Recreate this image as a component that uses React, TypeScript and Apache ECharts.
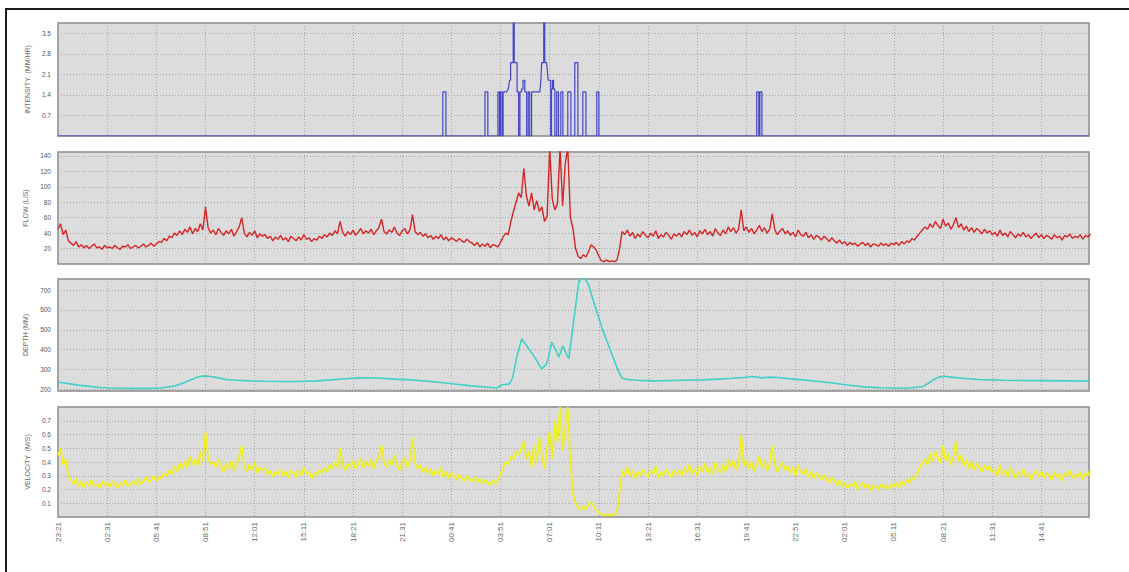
import React, { useEffect, useRef } from 'react';
import * as echarts from 'echarts';

// ---- time axis (minutes from 23:21 on day 1) ----
const xTickLabels = ['23:21', '02:31', '05:41', '08:51', '12:01', '15:11', '18:21', '21:31', '00:41', '03:51', '07:01',
  '10:11', '13:21', '16:31', '19:41', '22:51', '02:01', '05:11', '08:21', '11:31', '14:41'];
const TICK_STEP = 190;
const X_MAX = 3984;
const SAMPLE_STEP = 10;

// ---- y tick labels ----
const intensityTicks = ['0.7', '1.4', '2.1', '2.8', '3.5'];
const flowTicks = ['20', '40', '60', '80', '100', '120', '140'];
const depthTicks = ['200', '300', '400', '500', '600', '700'];
const velocityTicks = ['0.1', '0.2', '0.3', '0.4', '0.5', '0.6', '0.7'];

// ---- intensity (mm/hr), step outline: times (min) and values ----
const intensityT = [0,
  1487, 1487, 1499, 1499,
  1650, 1650, 1661, 1661,
  1700, 1700, 1706, 1706, 1710, 1710, 1716, 1716, 1720, 1720, 1733, 1740, 1745, 1749, 1749, 1759, 1759, 1763, 1763, 1774, 1774, 1780, 1780,
  1785, 1785, 1791, 1791, 1797, 1797, 1804, 1804, 1811, 1811, 1817, 1817, 1823, 1823, 1830, 1830, 1862, 1866, 1869, 1877, 1877, 1881, 1881,
  1888, 1894, 1904, 1904, 1907, 1907, 1911, 1911, 1915, 1915, 1920, 1920, 1927, 1927, 1934, 1934, 1943, 1943, 1951, 1951,
  1970, 1970, 1982, 1982, 1997, 1997, 2009, 2009, 2028, 2028, 2040, 2040, 2082, 2082, 2090, 2090,
  2700, 2700, 2708, 2708, 2712, 2712, 2720, 2720, 3984];
const intensityV = [0,
  0, 1.5, 1.5, 0,
  0, 1.5, 1.5, 0,
  0, 1.5, 1.5, 0, 0, 1.5, 1.5, 0, 0, 1.5, 1.5, 1.6, 1.9, 1.9, 2.5, 2.5, 4.5, 4.5, 2.5, 2.5, 1.5, 1.5, 0,
  0, 1.5, 1.5, 1.6, 1.6, 1.9, 1.9, 1.5, 1.5, 0, 0, 1.5, 1.5, 0, 0, 1.5, 1.5, 1.9, 2.5, 2.5, 4.5, 4.5, 2.5,
  2.5, 1.9, 1.9, 0, 0, 1.6, 1.6, 1.9, 1.9, 1.6, 1.6, 0, 0, 1.5, 1.5, 0, 0, 1.5, 1.5, 0,
  0, 1.5, 1.5, 0, 0, 2.5, 2.5, 0, 0, 1.5, 1.5, 0, 0, 1.5, 1.5, 0,
  0, 1.5, 1.5, 0, 0, 1.5, 1.5, 0, 0];

// ---- flow (L/s), one value every 10 minutes ----
const flowV = [
  45, 52, 38, 44, 30, 27, 24, 29, 22, 25, 21, 24, 20, 23, 26, 21, 22, 19, 24, 21,
  22, 20, 24, 21, 19, 23, 22, 25, 20, 22, 24, 21, 23, 26, 22, 24, 27, 23, 26, 29,
  28, 33, 30, 36, 34, 40, 37, 43, 38, 45, 41, 48, 39, 46, 42, 52, 44, 74, 47, 40,
  44, 38, 46, 41, 37, 43, 39, 45, 36, 42, 48, 60, 40, 35, 41, 37, 43, 34, 39, 36,
  38, 33, 36, 30, 35, 32, 37, 31, 34, 29, 36, 33, 30, 35, 31, 38, 32, 34, 29, 33,
  31, 36, 33, 38, 35, 40, 37, 43, 39, 55, 41, 36, 42, 38, 44, 37, 41, 46, 39, 43,
  40, 45, 38, 43, 47, 58, 42, 39, 44, 41, 48, 40, 37, 43, 46, 39, 44, 64, 42, 38,
  41, 36, 39, 34, 37, 32, 36, 33, 38, 31, 35, 30, 34, 32, 29, 33, 30, 28, 32, 29,
  27, 24, 28, 22, 26, 23, 27, 21, 25, 24, 22, 28, 35, 40, 38, 55, 68, 80, 92, 86,
  124, 88, 75, 92, 70, 82, 68, 74, 55, 62, 150, 84, 70, 78, 150, 75, 130, 150, 60, 46,
  20, 10, 7, 12, 9, 16, 25, 22, 18, 10, 4, 3, 5, 3, 4, 3, 5, 20, 42, 38,
  44, 36, 41, 33, 39, 35, 42, 37, 34, 40, 36, 43, 33, 38, 35, 41, 37, 32, 39, 36,
  40, 35, 42, 38, 44, 37, 41, 35, 43, 39, 45, 38, 42, 36, 46, 40, 37, 44, 39, 48,
  42, 47, 40, 45, 70, 43, 48, 41, 46, 39, 44, 50, 42, 47, 40, 45, 65, 44, 38, 43,
  46, 39, 43, 37, 41, 35, 44, 38, 36, 41, 34, 38, 32, 37, 35, 31, 36, 33, 29, 34,
  30, 27, 31, 26, 29, 24, 28, 25, 27, 23, 26, 28, 24, 27, 22, 26, 25, 23, 27, 24,
  26, 23, 27, 25, 28, 24, 29, 26, 30, 28, 33, 31, 36, 40, 44, 48, 45, 52, 47, 55,
  50, 46, 58, 49, 53, 45, 51, 60, 47, 52, 44, 49, 42, 47, 41, 46, 43, 39, 45, 40,
  43, 38, 41, 36, 44, 37, 40, 35, 42, 38, 34, 39, 36, 41, 35, 38, 33, 37, 40, 34,
  38, 33, 37, 35, 32, 38, 34, 36, 31, 37, 35, 39, 33, 36, 34, 38, 32, 37, 35, 39];

// ---- depth (mm): times (min) and values ----
const depthT = [0, 25, 47, 75, 105, 135, 163, 200, 240, 279, 320, 360, 396, 425, 454, 485, 512, 540, 560, 589, 620, 648, 690, 745,
  800, 860, 938, 1000, 1055, 1110, 1171, 1210, 1249, 1300, 1365, 1420, 1481, 1540, 1598, 1650, 1695, 1714, 1745, 1757, 1772, 1792,
  1811, 1830, 1850, 1869, 1889, 1908, 1923, 1935, 1951, 1962, 1974, 1993, 2013, 2032, 2048, 2075, 2102, 2141, 2160, 2179, 2199,
  2240, 2296, 2350, 2420, 2490, 2550, 2606, 2650, 2684, 2722, 2750, 2781, 2830, 2878, 2940, 2994, 3050, 3110, 3180, 3265, 3300,
  3343, 3365, 3382, 3400, 3420, 3450, 3479, 3520, 3556, 3600, 3653, 3720, 3808, 3900, 3984];
const depthV = [236, 232, 228, 222, 218, 213, 210, 207, 206, 205, 206, 205, 207, 212, 218, 232, 248, 262, 268, 265, 258, 250, 246, 243,
  241, 240, 240, 243, 248, 254, 258, 259, 256, 252, 248, 242, 235, 226, 218, 212, 207, 222, 228, 260, 360, 455,
  420, 385, 345, 302, 330, 437, 400, 362, 420, 385, 355, 550, 745, 765, 735, 620, 510, 375, 310, 258, 250,
  246, 243, 244, 246, 248, 252, 256, 260, 265, 258, 262, 260, 253, 248, 240, 232, 222, 213, 208, 206, 208,
  215, 232, 248, 260, 266, 262, 258, 254, 250, 248, 246, 245, 244, 243, 242];

// ---- velocity (m/s), one value every 10 minutes ----
const velocityV = [
  .45, .50, .38, .42, .30, .27, .24, .28, .22, .26, .21, .25, .23, .27, .22, .24, .21, .26, .23, .25,
  .22, .26, .24, .21, .25, .23, .27, .22, .24, .26, .23, .28, .24, .26, .29, .25, .27, .30, .26, .29,
  .28, .32, .30, .34, .31, .37, .33, .39, .35, .41, .36, .44, .38, .42, .37, .48, .40, .62, .43, .38,
  .40, .36, .42, .37, .33, .39, .35, .41, .34, .38, .44, .52, .36, .33, .38, .34, .40, .32, .36, .34,
  .36, .31, .34, .29, .33, .31, .35, .30, .33, .28, .34, .32, .29, .34, .30, .36, .31, .33, .28, .32,
  .30, .34, .32, .36, .33, .38, .35, .40, .36, .50, .38, .34, .39, .36, .41, .35, .38, .43, .36, .40,
  .37, .42, .35, .40, .44, .52, .39, .36, .41, .38, .45, .37, .34, .40, .43, .36, .41, .58, .39, .35,
  .38, .33, .36, .31, .35, .30, .34, .31, .36, .29, .33, .28, .32, .30, .27, .31, .28, .26, .30, .27,
  .26, .29, .25, .28, .24, .27, .25, .23, .27, .24, .26, .31, .36, .40, .38, .44, .42, .48, .45, .50,
  .55, .42, .48, .36, .52, .40, .58, .45, .35, .50, .62, .42, .70, .55, .80, .48, .66, .80, .40, .18,
  .10, .07, .05, .08, .06, .09, .11, .08, .05, .03, .02, .01, .02, .01, .02, .01, .04, .18, .34, .30,
  .36, .30, .34, .28, .33, .30, .35, .31, .29, .34, .31, .37, .28, .33, .30, .35, .32, .29, .34, .31,
  .34, .30, .36, .32, .38, .31, .35, .30, .37, .33, .39, .32, .36, .31, .40, .34, .32, .38, .33, .42,
  .36, .41, .34, .39, .60, .37, .42, .35, .40, .33, .38, .44, .36, .41, .34, .39, .52, .38, .33, .37,
  .40, .34, .37, .32, .36, .30, .38, .33, .31, .35, .29, .33, .28, .32, .30, .27, .31, .28, .25, .29,
  .26, .23, .27, .22, .25, .21, .24, .22, .26, .20, .23, .25, .21, .24, .19, .23, .22, .20, .24, .21,
  .23, .20, .24, .22, .25, .21, .26, .23, .27, .25, .29, .27, .32, .36, .39, .42, .38, .46, .40, .48,
  .43, .39, .52, .41, .46, .38, .44, .55, .40, .45, .37, .42, .35, .40, .34, .39, .36, .33, .38, .34,
  .37, .32, .35, .30, .38, .31, .34, .29, .36, .32, .28, .33, .30, .35, .29, .32, .27, .31, .34, .29,
  .33, .28, .32, .30, .27, .33, .29, .31, .26, .32, .30, .34, .28, .31, .29, .33, .27, .32, .30, .34];

const FONT = '"Liberation Sans", Arial, sans-serif';
const GRID_COLOR = '#a4a4a4';

function pairsFromSteps(values: number[]) {
  return values.map((v, i) => [i * SAMPLE_STEP, v]);
}
function pairs(ts: number[], vs: number[]) {
  return ts.map((t, i) => [t, vs[i]]);
}
function labelFrom(list: string[], digits: number) {
  return (v: number) => {
    const s = Number(v).toFixed(digits);
    return list.includes(s) ? s : '';
  };
}

export default function App() {
  const ref = useRef<HTMLDivElement>(null);
  useEffect(() => {
    if (!ref.current) return;
    const chart = echarts.init(ref.current, null, { renderer: 'svg' });
    const grids = [
      { left: 58, top: 23, width: 1031, height: 113 },
      { left: 58, top: 152, width: 1031, height: 112 },
      { left: 58, top: 279, width: 1031, height: 112 },
      { left: 58, top: 407, width: 1031, height: 110 },
    ].map((g) => ({
      ...g,
      show: true,
      backgroundColor: '#dcdcdc',
      borderColor: '#8a8a8a',
      borderWidth: 1.5,
      containLabel: false,
      outerBoundsMode: 'none',
    }));
    const xAxes = grids.map((_, i) => ({
      type: 'value',
      gridIndex: i,
      min: 0,
      max: X_MAX,
      interval: TICK_STEP,
      axisLine: { show: false },
      axisTick: { show: false },
      splitLine: { show: true, lineStyle: { color: GRID_COLOR, type: [1, 2], width: 1 } },
      axisLabel: {
        show: i === 3,
        rotate: 90,
        fontSize: 8,
        color: '#6a6a6a',
        fontFamily: FONT,
        margin: 5,
        showMaxLabel: false,
        formatter: (v: number) => {
          const k = Math.round(v / TICK_STEP);
          return Math.abs(v - k * TICK_STEP) < 1 ? (xTickLabels[k] ?? '') : '';
        },
      },
    }));
    const yCommon = {
      type: 'value',
      nameLocation: 'middle',
      nameGap: 24,
      nameRotate: 90,
      nameTextStyle: { fontSize: 7, color: '#6a6a6a', fontFamily: FONT },
      axisLine: { show: false },
      axisTick: { show: false },
      splitLine: { show: true, lineStyle: { color: GRID_COLOR, type: [1, 2], width: 1 } },
    };
    const yLabel = { fontSize: 6.5, color: '#555', fontFamily: FONT, margin: 7 };
    const yAxes = [
      { ...yCommon, gridIndex: 0, name: 'INTENSITY  (MM/HR)', min: 0, max: 3.85, interval: 0.7,
        axisLabel: { ...yLabel, formatter: labelFrom(intensityTicks, 1) } },
      { ...yCommon, gridIndex: 1, name: 'FLOW (L/S)', min: 0, max: 145, interval: 20,
        axisLabel: { ...yLabel, formatter: labelFrom(flowTicks, 0) } },
      { ...yCommon, gridIndex: 2, name: 'DEPTH (MM)', min: 192, max: 756, splitNumber: 5,
        axisLabel: { ...yLabel, formatter: labelFrom(depthTicks, 0) } },
      { ...yCommon, gridIndex: 3, name: 'VELOCITY  (M/S)', min: 0, max: 0.8, interval: 0.1,
        axisLabel: { ...yLabel, formatter: labelFrom(velocityTicks, 1) } },
    ];
    const lineBase = { type: 'line', symbol: 'none', clip: true, silent: true };
    chart.setOption({
      animation: false,
      backgroundColor: '#ffffff',
      grid: grids,
      xAxis: xAxes,
      yAxis: yAxes,
      series: [
        { ...lineBase, name: 'Intensity', xAxisIndex: 0, yAxisIndex: 0, data: pairs(intensityT, intensityV),
          lineStyle: { color: '#4545c8', width: 1.2 } },
        { ...lineBase, name: 'Flow', xAxisIndex: 1, yAxisIndex: 1, data: pairsFromSteps(flowV),
          lineStyle: { color: '#d42626', width: 1.4 } },
        { ...lineBase, name: 'Depth', xAxisIndex: 2, yAxisIndex: 2, data: pairs(depthT, depthV),
          lineStyle: { color: '#3fd0c6', width: 1.6 } },
        { ...lineBase, name: 'Velocity', xAxisIndex: 3, yAxisIndex: 3, data: pairsFromSteps(velocityV),
          lineStyle: { color: '#f0f020', width: 1.8 } },
      ],
      graphic: [
        { type: 'line', shape: { x1: 5, y1: 9, x2: 1129, y2: 9 }, style: { stroke: '#1c1c1c', lineWidth: 2 } },
        { type: 'line', shape: { x1: 6, y1: 8, x2: 6, y2: 572 }, style: { stroke: '#1c1c1c', lineWidth: 2 } },
      ],
    });
    return () => chart.dispose();
  }, []);
  return <div ref={ref} style={{ position: 'fixed', left: 0, top: 0, width: 1129, height: 572 }} />;
}
